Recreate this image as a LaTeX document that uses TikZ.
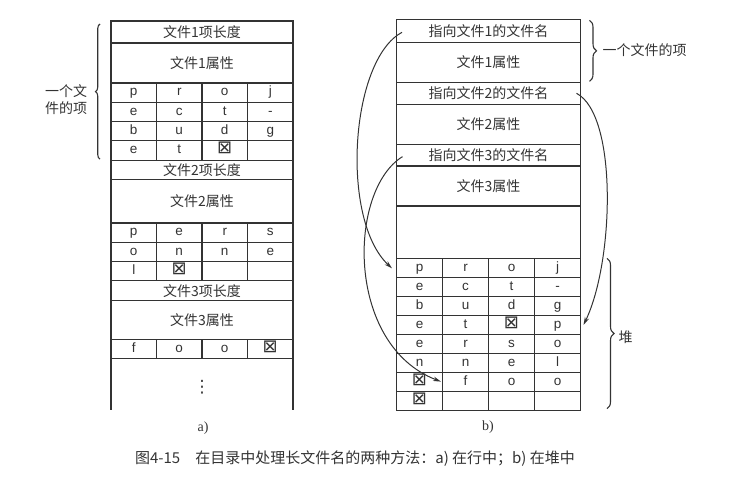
\documentclass[tikz,border=0pt]{standalone}
\usepackage{fontspec}
\setmainfont{Liberation Serif}
\newfontfamily\cjk{Noto Sans CJK SC}
\newfontfamily\lsans{Liberation Sans}
\newfontfamily\symb{DejaVu Sans}
\usetikzlibrary{arrows.meta,positioning,calc,decorations.pathreplacing}
\newcommand{\eosq}{{\symb\fontsize{18}{18}\selectfont ⊠}}
\tikzstyle{slot}  =[draw,rectangle,minimum width=182pt,inner sep=0pt,outer sep=0pt,font=\cjk\fontsize{14}{16}\selectfont]
\tikzstyle{hslot} =[slot,minimum width=184pt]
\tikzstyle{cell}  =[draw,rectangle,minimum width=45.5pt,minimum height=19.3pt,inner sep=0pt,outer sep=0pt,text height=9.5pt,text depth=3pt,font=\lsans\fontsize{13.5}{15}\selectfont]
\tikzstyle{hcell} =[cell,minimum width=46pt,minimum height=19.05pt]
\tikzstyle{note}  =[inner sep=0pt,font=\cjk\fontsize{14}{17}\selectfont]
\tikzstyle{sub}   =[inner sep=0pt,font=\fontsize{14}{16}\selectfont]
\tikzstyle{lbrace}=[decorate,decoration={brace,amplitude=4.5pt}]
\tikzstyle{rbrace}=[decorate,decoration={brace,amplitude=7pt}]
\tikzstyle{link}  =[-{Stealth[length=8pt,width=4.5pt]},line width=1pt]

\begin{document}
\begin{tikzpicture}[x=1pt,y=-1pt,node distance=0pt,line width=1.1pt,color=black!80]
\useasboundingbox (0,0) rectangle (738,476);

% a) names kept in the row
\node[slot,minimum height=22pt] (len1) at (202,32) {文件1项长度};
\node[slot,minimum height=40pt,below=of len1] (attr1) {文件1属性};
\node[cell,below right=of attr1.south west] (a11) {p};
\node[cell,right=of a11] (a12) {r};
\node[cell,right=of a12] (a13) {o};
\node[cell,right=of a13] (a14) {j};
\node[cell,below=of a11] (a21) {e};
\node[cell,right=of a21] (a22) {c};
\node[cell,right=of a22] (a23) {t};
\node[cell,right=of a23] (a24) {-};
\node[cell,below=of a21] (a31) {b};
\node[cell,right=of a31] (a32) {u};
\node[cell,right=of a32] (a33) {d};
\node[cell,right=of a33] (a34) {g};
\node[cell,below=of a31] (a41) {e};
\node[cell,right=of a41] (a42) {t};
\node[cell,right=of a42] (a43) {\eosq};
\node[cell,right=of a43] (a44) {};

\node[slot,minimum height=19pt,below right=of a41.south west] (len2) {文件2项长度};
\node[slot,minimum height=43.8pt,below=of len2] (attr2) {文件2属性};
\node[cell,below right=of attr2.south west] (b11) {p};
\node[cell,right=of b11] (b12) {e};
\node[cell,right=of b12] (b13) {r};
\node[cell,right=of b13] (b14) {s};
\node[cell,below=of b11] (b21) {o};
\node[cell,right=of b21] (b22) {n};
\node[cell,right=of b22] (b23) {n};
\node[cell,right=of b23] (b24) {e};
\node[cell,below=of b21] (b31) {l};
\node[cell,right=of b31] (b32) {\eosq};
\node[cell,right=of b32] (b33) {};
\node[cell,right=of b33] (b34) {};

\node[slot,minimum height=20pt,below right=of b31.south west] (len3) {文件3项长度};
\node[slot,minimum height=38.4pt,below=of len3] (attr3) {文件3属性};
\node[cell,below right=of attr3.south west] (c11) {f};
\node[cell,right=of c11] (c12) {o};
\node[cell,right=of c12] (c13) {o};
\node[cell,right=of c13] (c14) {\eosq};
\draw (c11.south west) -- ++(0,51.5);
\draw (c14.south east) -- ++(0,51.5);
\node[sub,font=\symb\fontsize{17}{17}\selectfont] (dots) at ($(c11.south west)!0.5!(c14.south east)+(0,29)$) {⋮};
\node[sub] (capa) at (203,428) {a)};

\draw[lbrace] ($(a41.south west)+(-11,-1)$) -- ($(len1.north west)+(-11,3)$);
\node[note,align=center] (item1) at (66,100) {一个文\\件的项};

% b) names kept in a heap
\node[hslot,minimum height=23pt] (ptr1) at (488.5,30.8) {指向文件1的文件名};
\node[hslot,minimum height=40pt,below=of ptr1] (prop1) {文件1属性};
\node[hslot,minimum height=22pt,below=of prop1] (ptr2) {指向文件2的文件名};
\node[hslot,minimum height=40pt,below=of ptr2] (prop2) {文件2属性};
\node[hslot,minimum height=21.7pt,below=of prop2] (ptr3) {指向文件3的文件名};
\node[hslot,minimum height=40pt,below=of ptr3] (prop3) {文件3属性};
\node[hslot,minimum height=52.3pt,below=of prop3] (free) {};

\node[hcell,below right=of free.south west] (h11) {p};
\node[hcell,right=of h11] (h12) {r};
\node[hcell,right=of h12] (h13) {o};
\node[hcell,right=of h13] (h14) {j};
\node[hcell,below=of h11] (h21) {e};
\node[hcell,right=of h21] (h22) {c};
\node[hcell,right=of h22] (h23) {t};
\node[hcell,right=of h23] (h24) {-};
\node[hcell,below=of h21] (h31) {b};
\node[hcell,right=of h31] (h32) {u};
\node[hcell,right=of h32] (h33) {d};
\node[hcell,right=of h33] (h34) {g};
\node[hcell,below=of h31] (h41) {e};
\node[hcell,right=of h41] (h42) {t};
\node[hcell,right=of h42] (h43) {\eosq};
\node[hcell,right=of h43] (h44) {p};
\node[hcell,below=of h41] (h51) {e};
\node[hcell,right=of h51] (h52) {r};
\node[hcell,right=of h52] (h53) {s};
\node[hcell,right=of h53] (h54) {o};
\node[hcell,below=of h51] (h61) {n};
\node[hcell,right=of h61] (h62) {n};
\node[hcell,right=of h62] (h63) {e};
\node[hcell,right=of h63] (h64) {l};
\node[hcell,below=of h61] (h71) {\eosq};
\node[hcell,right=of h71] (h72) {f};
\node[hcell,right=of h72] (h73) {o};
\node[hcell,right=of h73] (h74) {o};
\node[hcell,below=of h71] (h81) {\eosq};
\node[hcell,right=of h81] (h82) {};
\node[hcell,right=of h82] (h83) {};
\node[hcell,right=of h83] (h84) {};
\node[sub] (capb) at (488,427) {b)};

\draw[rbrace] ($(ptr1.north east)+(9,1)$) -- ($(prop1.south east)+(9,-1)$);
\node[note,anchor=west] (item2) at (602,50) {一个文件的项};
\draw[rbrace] ($(h14.north east)+(26.5,0)$) -- ($(h84.south east)+(26.5,-2)$);
\node[note,anchor=west] (heap) at (618,337) {堆};

% pointers into the heap
\coordinate (s1) at ($(ptr1.west)+(5.5,1.5)$);
\coordinate (t1) at ($(h11.west)+(-4.5,0.5)$);
\coordinate (s2) at ($(ptr3.west)+(6,1.5)$);
\coordinate (t2) at ($(h72.west)+(-1.5,-0.5)$);
\coordinate (s3) at ($(ptr2.east)+(-4,0)$);
\coordinate (t3) at ($(h44.east)+(3,0)$);
\draw[link] (s1) .. controls (350,60) and (340,220) .. (t1);
\draw[link] (s2) .. controls (348,190) and (345,345) .. (t2);
\draw[link] (s3) .. controls (618,115) and (614,262) .. (t3);

\node[note,font=\cjk\fontsize{15}{17}\selectfont] (caption) at (355,459) {图4-15\hspace{1em}在目录中处理长文件名的两种方法：a) 在行中；b) 在堆中};
\end{tikzpicture}
\end{document}
